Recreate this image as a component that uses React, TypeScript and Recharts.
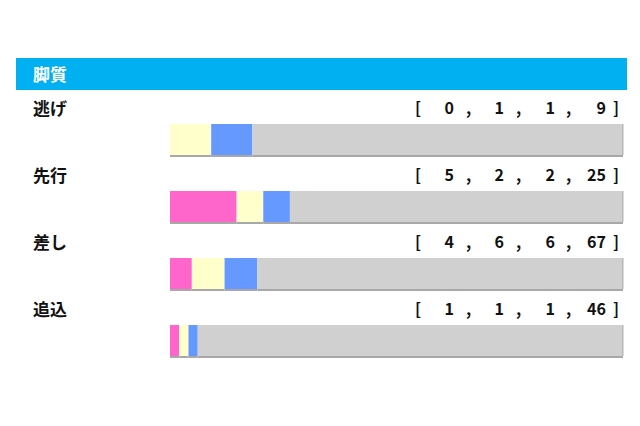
import React from 'react';
import { BarChart, Bar, XAxis, YAxis } from 'recharts';

const styles = ['逃げ', '先行', '差し', '追込'];
const firstPlace = [0, 5, 4, 1];
const secondPlace = [1, 2, 6, 1];
const thirdPlace = [1, 2, 6, 1];
const unplaced = [9, 25, 67, 46];
const title = '脚質';

const colors = {
  first: '#FF66CC',
  second: '#FFFFCC',
  third: '#6699FF',
  rest: '#D0D0D0',
  shadow: '#A8A8A8',
  header: '#00B0F0',
};

const data = styles.map((s, i) => ({
  style: s,
  first: firstPlace[i],
  second: secondPlace[i],
  third: thirdPlace[i],
  rest: unplaced[i],
}));

const FONT = '"Noto Sans CJK JP", "Noto Sans", sans-serif';

const ShadowBar = (props: any) => {
  const { x, y, width, height, fill, isLast } = props;
  if (!width || width <= 0) return null;
  return (
    <g>
      <rect x={x} y={y} width={width} height={height} fill={fill} />
      <rect x={x} y={y + height} width={width} height={2} fill={colors.shadow} />
      {isLast && <rect x={x + width - 1} y={y} width={1.5} height={height} fill="#B8B8B8" />}
    </g>
  );
};

const RowTick = (props: any) => {
  const { y, payload } = props;
  const i = payload.index;
  const ty = y - 32.5;
  const vals = [firstPlace[i], secondPlace[i], thirdPlace[i], unplaced[i]];
  const numX = [454, 504, 555, 606];
  const commaX = [466, 516, 566];
  const common = { fontFamily: FONT, fontWeight: 700, fill: '#111', dominantBaseline: 'central' as const };
  return (
    <g>
      <text x={33} y={ty} fontSize={17} {...common}>{payload.value}</text>
      <text x={415} y={ty} fontSize={16} {...common}>[</text>
      {vals.map((v, k) => (
        <text key={'n' + k} x={numX[k]} y={ty} fontSize={16} textAnchor="end" {...common}>{v}</text>
      ))}
      {commaX.map((cx, k) => (
        <text key={'c' + k} x={cx} y={ty} fontSize={16} {...common}>,</text>
      ))}
      <text x={613} y={ty} fontSize={16} {...common}>]</text>
    </g>
  );
};

export default function App() {
  return (
    <div style={{ position: 'absolute', left: 0, top: 0, width: 640, height: 426, background: '#fff' }}>
      <div
        style={{
          position: 'absolute',
          left: 16,
          top: 58,
          width: 611,
          height: 32,
          background: colors.header,
          color: '#fff',
          fontFamily: FONT,
          fontWeight: 700,
          fontSize: 17,
          lineHeight: '32px',
          paddingLeft: 17,
          boxSizing: 'border-box',
        }}
      >
        {title}
      </div>
      <BarChart
        width={640}
        height={426}
        data={data}
        layout="vertical"
        stackOffset="expand"
        barSize={31}
        margin={{ top: 106, bottom: 52, left: 0, right: 17 }}
      >
        <XAxis type="number" hide domain={[0, 1]} />
        <YAxis
          type="category"
          dataKey="style"
          width={170}
          axisLine={false}
          tickLine={false}
          tick={<RowTick />}
        />
        <Bar dataKey="first" stackId="a" fill={colors.first} isAnimationActive={false} shape={<ShadowBar />} />
        <Bar dataKey="second" stackId="a" fill={colors.second} isAnimationActive={false} shape={<ShadowBar />} />
        <Bar dataKey="third" stackId="a" fill={colors.third} isAnimationActive={false} shape={<ShadowBar />} />
        <Bar dataKey="rest" stackId="a" fill={colors.rest} isAnimationActive={false} shape={<ShadowBar isLast />} />
      </BarChart>
    </div>
  );
}
